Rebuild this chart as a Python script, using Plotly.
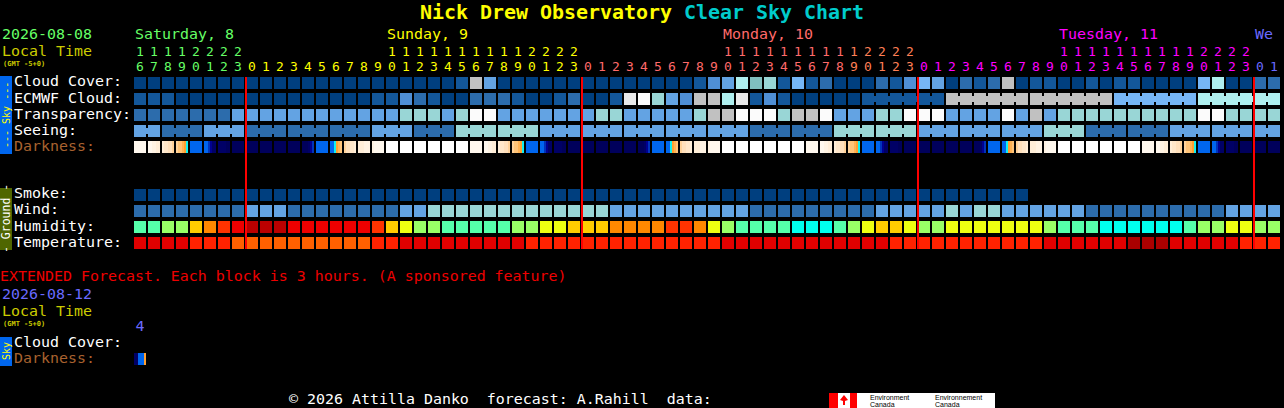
import plotly.graph_objects as go

W, H = 1284, 408

HOURS = [16,17,18,19,20,21,22,23,
         0,1,2,3,4,5,6,7,8,9,10,11,12,13,14,15,16,17,18,19,20,21,22,23,
         0,1,2,3,4,5,6,7,8,9,10,11,12,13,14,15,16,17,18,19,20,21,22,23,
         0,1,2,3,4,5,6,7,8,9,10,11,12,13,14,15,16,17,18,19,20,21,22,23,
         0,1]
# hour-index ranges and label colours
HOUR_GROUPS = [(0, 8, "#66ff66"), (8, 32, "#ffff00"), (32, 51, "#ff6a6a"),
               (51, 56, "#ff7f55"), (56, 80, "#ff00ff"), (80, 82, "#6a6aff")]
MIDNIGHTS = [8, 32, 56, 80]

SKY_COLORS = ["#003f7f", "#13579a", "#2c6cac", "#4f8fd5", "#63a3e3", "#76b6f6",
              "#80bfbf", "#99d6d6", "#afefef", "#c1c1c1", "#e9e9e9", "#fbfbfb"]
HUM_COLORS = ["#00ffee", "#55ffaa", "#99ff66", "#eeff11", "#ffcc00", "#ff8800",
              "#ff3300", "#ee0000", "#bb0000"]
TEMP_COLORS = ["#aa0000", "#e00000", "#ff2200", "#ff6000"]

CLOUD = [0,0,0,0,0,0,0,0,0,0,
         0,0,0,0,0,0,0,0,0,0,
         0,0,0,1,9,4,0,0,0,0,
         0,0,0,0,0,0,0,0,0,0,
         1,3,4,8,6,7,1,5,1,2,
         0,0,0,2,1,3,5,4,0,2,
         1,2,9,0,1,1,0,0,1,0,
         1,1,0,0,0,0,5,8,0,0,
         2,2]
ECMWF = [1,1,1,0,0,0,0,0,0,0,
         0,0,0,0,0,0,0,1,1,3,
         2,1,0,0,2,2,2,1,0,0,
         1,2,0,0,1,10,11,7,4,3,
         9,9,8,10,1,3,1,0,0,0,
         0,0,1,1,1,1,1,1,9,9,
         9,9,9,9,9,9,9,9,9,9,
         5,5,5,5,5,5,8,8,8,8,
         8,8]
TRANSPARENCY = [2,2,2,2,2,2,2,4,4,4,
                4,4,4,4,4,4,4,4,4,7,
                7,7,4,7,11,11,4,4,4,4,
                4,4,4,7,7,4,4,4,4,4,
                7,9,9,11,11,11,7,9,9,11,
                4,4,4,7,7,11,11,11,4,4,
                4,4,11,4,9,4,7,7,7,7,
                7,7,7,7,7,7,11,11,7,7,
                7,7]
SEEING = [4,4,2,2,2,4,4,4,2,2,
          2,2,2,2,2,2,2,4,4,4,
          2,2,2,7,7,7,7,7,7,4,
          4,4,4,4,4,4,4,4,4,4,
          4,4,4,4,2,2,2,2,2,2,
          7,7,7,7,7,7,4,4,4,4,
          4,4,4,4,4,7,7,7,2,2,
          2,2,2,2,4,4,4,4,4,4,
          4,4]
SMOKE = [0,0,0,0,0,0,0,0,0,0,
         0,0,0,0,0,0,0,0,0,0,
         0,0,0,0,0,0,0,0,0,0,
         0,0,0,0,0,0,0,0,0,0,
         0,0,0,0,0,0,0,0,0,0,
         0,0,0,0,0,0,0,0,0,0,
         0,0,0,0,None,None,None,None,None,None,
         None,None,None,None,None,None,None,None,None,None,
         None,None]
WIND = [2,2,2,2,2,2,2,2,4,4,
        4,2,2,2,2,2,2,2,2,4,
        4,7,7,7,7,7,7,7,7,7,
        7,7,7,7,4,4,4,4,4,4,
        4,4,4,4,2,2,2,2,2,2,
        2,2,2,4,4,4,4,4,7,4,
        7,7,4,4,4,4,4,4,2,2,
        2,2,2,2,2,2,2,2,4,4,
        4,4]
HUMIDITY = [1,1,2,2,4,5,6,7,8,8,
            8,7,7,7,7,7,7,6,4,3,
            2,2,1,1,1,1,1,2,2,3,
            3,4,4,4,5,5,5,5,6,6,
            5,3,2,1,1,1,1,0,0,0,
            1,2,3,4,4,3,2,2,3,3,
            3,3,3,3,3,2,1,1,1,0,
            0,0,0,0,0,1,2,2,3,3,
            2,2]
TEMPERATURE = [1,1,1,1,2,2,2,3,3,3,
               3,3,3,3,3,3,3,2,2,1,
               1,1,1,1,1,1,1,1,2,2,
               2,2,2,2,2,2,2,2,2,2,
               2,2,1,1,1,1,1,1,1,1,
               1,1,1,1,2,2,2,2,2,2,
               2,2,2,2,2,1,1,1,1,1,
               1,0,0,0,1,1,1,1,1,2,
               2,2]
# first hour index of each multi-hour forecast block
SEEING_BLOCKS = [0,2,5,8,11,14,17,20,23,26,29,32,35,38,41,44,47,50,53,56,59,62,65,68,71,74,77,80]
ECMWF_BLOCKS = [52,58,64,70,76]

# darkness level within each one-hour block, six readings per block
DARKNESS = [
 [1,1,1,1,1,1],[1,1,1.5,1.5,2,2],[2,2.5,2.5,3,3,3.5],[3.5,4,4,4.5,5,6],[7,7,7,7,7,7],[7,7,8,8.5,9,9],
 [9,9,9,9,9.5,9.5],[9.5,9.5,9.5,9.5,9.5,9.5],[9.5,9.5,9.5,9.5,9.5,9.5],[9.5,9.5,9.5,9.5,9.5,9.5],
 [9.5,9.5,9.5,9.5,9.5,9.5],[9.5,9.5,9.5,9.5,9.5,9.5],[9.5,9.5,9.5,9,8.5,8],[7,7,7,7,7,7],
 [7,7,6,5,4.5,4],[3.5,3,3,2.5,2.5,2],[2,2,2,1.5,1.5,1.5],[1.5,1,1,1,1,1],
 [0,0,0,0,0,0],[0,0,0,0,0,0],[0,0,0,0,0,0],[0,0,0,0,0,0],[0,0,0,0,0,0],[0,0,0,0,0,0],
 [1,1,1,1,1,1],[1,1,1.5,1.5,2,2],[2,2.5,2.5,3,3,3.5],[3.5,4,4,4.5,5,6],[7,7,7,7,7,7],[7,7,8,8.5,9,9],
 [9,9,9,9,9.5,9.5],[9.5,9.5,9.5,9.5,9.5,9.5],[9.5,9.5,9.5,9.5,9.5,9.5],[9.5,9.5,9.5,9.5,9.5,9.5],
 [9.5,9.5,9.5,9.5,9.5,9.5],[9.5,9.5,9.5,9.5,9.5,9.5],[9.5,9.5,9.5,9,8.5,8],[7,7,7,7,7,7],
 [7,7,6,5,4.5,4],[3.5,3,3,2.5,2.5,2],[2,2,2,1.5,1.5,1.5],[1.5,1,1,1,1,1],
 [0,0,0,0,0,0],[0,0,0,0,0,0],[0,0,0,0,0,0],[0,0,0,0,0,0],[0,0,0,0,0,0],[0,0,0,0,0,0],
 [1,1,1,1,1,1],[1,1,1.5,1.5,2,2],[2,2.5,2.5,3,3,3.5],[3.5,4,4,4.5,5,6],[7,7,7,7,7,7],[7,7,8,8.5,9,9],
 [9,9,9,9,9.5,9.5],[9.5,9.5,9.5,9.5,9.5,9.5],[9.5,9.5,9.5,9.5,9.5,9.5],[9.5,9.5,9.5,9.5,9.5,9.5],
 [9.5,9.5,9.5,9.5,9.5,9.5],[9.5,9.5,9.5,9.5,9.5,9.5],[9.5,9.5,9.5,9,8.5,8],[7,7,7,7,7,7],
 [7,7,6,5,4.5,4],[3.5,3,3,2.5,2.5,2],[2,2,2,1.5,1.5,1.5],[1.5,1,1,1,1,1],
 [0,0,0,0,0,0],[0,0,0,0,0,0],[0,0,0,0,0,0],[0,0,0,0,0,0],[0,0,0,0,0,0],[0,0,0,0,0,0],
 [1,1,1,1,1,1],[1,1,1.5,1.5,2,2],[2,2.5,2.5,3,3,3.5],[3.5,4,4,4.5,5,6],[7,7,7,7,7,7],[7,7,8,8.5,9,9],
 [9,9,9,9,9.5,9.5],[9.5,9.5,9.5,9.5,9.5,9.5],[9.5,9.5,9.5,9.5,9.5,9.5],[9.5,9.5,9.5,9.5,9.5,9.5],
]
EXT_DARKNESS = [9, 9, 7, 7, 7, 5]
DARK_SCALE = [(0.0, "#ffffff"), (0.1, "#fff8ee"), (0.2, "#ffeed8"), (0.3, "#ffe0bc"), (0.4, "#ffc478"),
              (0.5, "#ffa030"), (0.55, "#ffa030"), (0.6, "#10f0f0"), (0.65, "#0088ee"), (0.7, "#0066ee"),
              (0.8, "#0033bb"), (0.85, "#000090"), (0.9, "#000066"), (1.0, "#000050")]

ROW_LABELS = ["Cloud Cover:", "ECMWF Cloud:", "Transparency:", "Seeing:", "Darkness:",
              "Smoke:", "Wind:", "Humidity:", "Temperature:"]
ROW_LABEL_Y = [81.5, 97.5, 113.5, 129.5, 145.5, 193, 209.5, 225.5, 241.5]
DAY_LABELS = [("Saturday, 8", 135, "#66ff66"), ("Sunday, 9", 387, "#ffff00"),
              ("Monday, 10", 723, "#ff6a6a"), ("Tuesday, 11", 1059, "#ff00ff"), ("We", 1255, "#6a6aff")]

MONO = "DejaVu Sans Mono"
BODY = 14.95


def steps(colors):
    n = len(colors)
    out = []
    for k, c in enumerate(colors):
        out += [(k / n, c), ((k + 1) / n, c)]
    return out


def cell(rows):
    return [[None if v is None else v + 0.5 for v in r] for r in rows]


n = len(HOURS)
idx = list(range(n))
none_row = [None] * n
fig = go.Figure()
hm = dict(showscale=False, hoverinfo="skip", xgap=2, ygap=4)

# y is in row units (16 px a row)
fig.add_trace(go.Heatmap(
    x=idx, y=[0, 1, 2, 3, 4, 5, 6, 7, 8],
    z=cell([CLOUD, ECMWF, TRANSPARENCY, SEEING, none_row, none_row, none_row, SMOKE, WIND]),
    colorscale=steps(SKY_COLORS), zmin=0, zmax=len(SKY_COLORS), **hm))
fig.add_trace(go.Heatmap(x=idx, y=[9, 10], z=cell([HUMIDITY, none_row]),
                         colorscale=steps(HUM_COLORS), zmin=0, zmax=len(HUM_COLORS), **hm))
fig.add_trace(go.Heatmap(x=idx, y=[9, 10], z=cell([none_row, TEMPERATURE]),
                         colorscale=steps(TEMP_COLORS), zmin=0, zmax=len(TEMP_COLORS), **hm))


def bridges(values, starts):
    return [values[i] if i + 1 < n and i + 1 not in starts and i >= starts[0] else None for i in idx]


fig.add_trace(go.Heatmap(
    x=[i + 0.5 for i in idx], y=[1, 2, 3],
    z=cell([bridges(ECMWF, ECMWF_BLOCKS), none_row, bridges(SEEING, SEEING_BLOCKS)]),
    colorscale=steps(SKY_COLORS), zmin=0, zmax=len(SKY_COLORS),
    showscale=False, hoverinfo="skip", xgap=12, ygap=10))

# Darkness: 7 slots per hour, six readings and one empty slot (gap between blocks)
dark_x, dark_z = [], []
for i, vals in enumerate(DARKNESS):
    for k, v in enumerate(vals):
        dark_x.append(i + (k - 2.5) / 7)
        dark_z.append(v)
    dark_x.append(i + 3.5 / 7)
    dark_z.append(None)
fig.add_trace(go.Heatmap(x=dark_x, y=[4 - 0.375, 4 + 0.375], z=[dark_z],
                         colorscale=DARK_SCALE, zmin=0, zmax=10,
                         showscale=False, hoverinfo="skip"))
ext_x = [(k - 2.5) / 7 for k in range(6)]
ext_row = (359 - 83) / 16
fig.add_trace(go.Heatmap(x=ext_x, y=[ext_row - 0.375, ext_row + 0.375], z=[EXT_DARKNESS],
                         colorscale=DARK_SCALE, zmin=0, zmax=10,
                         showscale=False, hoverinfo="skip"))

# midnight lines
lx, ly = [], []
for m in MIDNIGHTS:
    lx += [m - 0.43, m - 0.43, None]
    ly += [-0.375, 10.375, None]
fig.add_trace(go.Scatter(x=lx, y=ly, mode="lines", line=dict(color="#ff0000", width=2), hoverinfo="skip"))

# hour labels
TENS_ROW = (52.5 - 83) / 16
ONES_ROW = (68 - 83) / 16
for a, b, col in HOUR_GROUPS:
    tx, ty, tt = [], [], []
    for i in range(a, b):
        h = HOURS[i]
        if h >= 10:
            tx.append(i); ty.append(TENS_ROW); tt.append(str(h // 10))
        tx.append(i); ty.append(ONES_ROW); tt.append(str(h % 10))
    fig.add_trace(go.Scatter(x=tx, y=ty, text=tt, mode="text", hoverinfo="skip",
                             textposition="middle center",
                             textfont=dict(family=MONO, size=13, color=col)))
fig.add_trace(go.Scatter(x=[0], y=[(327 - 83) / 16], text=["4"], mode="text", hoverinfo="skip",
                         textfont=dict(family=MONO, size=BODY, color="#6a6aff")))

anns = []


def txt(s, x, y, color="#ffffff", size=BODY, anchor="left", angle=0, family=MONO):
    anns.append(dict(text=s, x=x / W, y=1 - y / H, xref="paper", yref="paper", showarrow=False,
                     xanchor=anchor, yanchor="middle", textangle=angle, borderpad=0, borderwidth=0,
                     font=dict(family=family, size=size, color=color)))


txt("<b>Nick Drew Observatory</b>", 420, 12, "#ffff00", 19.95)
txt("<b>Clear Sky Chart</b>", 684, 12, "#00cccc", 19.95)
txt("2026-08-08", 2, 33.5, "#66ff66")
txt("Local Time", 2, 51, "#cccc00")
txt("<b>(GMT -5+0)</b>", 3, 64, "#cccc00", 7)
for s, x, c in DAY_LABELS:
    txt(s, x, 33.5, c)
for s, y in zip(ROW_LABELS, ROW_LABEL_Y):
    txt(s, 14, y, "#a8622f" if s == "Darkness:" else "#ffffff")
txt("EXTENDED Forecast. Each block is 3 hours. (A sponsored feature)", 0, 276, "#ee0000")
txt("2026-08-12", 2, 293.5, "#6a6aff")
txt("Local Time", 2, 311, "#cccc00")
txt("<b>(GMT -5+0)</b>", 3, 324, "#cccc00", 7)
txt("Cloud Cover:", 14, 341.5)
txt("Darkness:", 14, 357.5, "#a8622f")
txt("\u00a9 2026 Attilla Danko\u00a0\u00a0forecast: A.Rahill\u00a0\u00a0data:", 289, 399)

txt("--- Sky ---", 6, 115, "#ffff00", 10, "center", -90)
txt("- Ground -", 6, 219, "#ffffff", 11.5, "center", -90)
txt("Sky", 6, 351, "#ffff00", 10, "center", -90)

SANS = "Liberation Sans"
txt("Environment", 870, 397, "#000000", 7, family=SANS)
txt("Canada", 870, 404, "#000000", 7, family=SANS)
txt("Environnement", 935, 397, "#000000", 7, family=SANS)
txt("Canada", 935, 404, "#000000", 7, family=SANS)


def rect(x0, y0, x1, y1, c):
    return dict(type="rect", xref="paper", yref="paper", x0=x0 / W, x1=x1 / W,
                y0=1 - y0 / H, y1=1 - y1 / H, fillcolor=c, line=dict(width=0), layer="below")


def leaf(cx, cy, rx, ry, c):
    pts = [(cx, cy - ry), (cx + rx, cy), (cx + 1, cy + 1), (cx + 1, cy + ry), (cx - 1, cy + ry), (cx - 1, cy + 1), (cx - rx, cy)]
    path = "M " + " L ".join(f"{x / W:.5f},{1 - y / H:.5f}" for x, y in pts) + " Z"
    return dict(type="path", xref="paper", yref="paper", path=path, fillcolor=c, line=dict(width=0), layer="below")


shapes = [rect(0, 76, 12, 154, "#0066ee"), rect(0, 188, 12, 250, "#4f6600"), rect(0, 337, 12, 366, "#0066ee"),
          rect(829, 393, 995, 408, "#ffffff"), rect(829, 393, 838, 408, "#ff0000"), rect(850, 393, 857, 408, "#ff0000"),
          leaf(844, 400, 4, 5, "#ff0000")]

fig.update_layout(
    width=W, height=H, margin=dict(l=0, r=0, t=0, b=0, pad=0), autosize=False,
    paper_bgcolor="#000000", plot_bgcolor="#000000", showlegend=False,
    xaxis=dict(visible=False, range=[(0 - 140) / 14, (W - 140) / 14], fixedrange=True),
    yaxis=dict(visible=False, range=[(H - 83) / 16, (0 - 83) / 16], fixedrange=True),
    annotations=anns, shapes=shapes,
)
fig.write_html("out.html", config={"displayModeBar": False},
               post_script="document.body.style.margin='0';document.body.style.background='#000';")
